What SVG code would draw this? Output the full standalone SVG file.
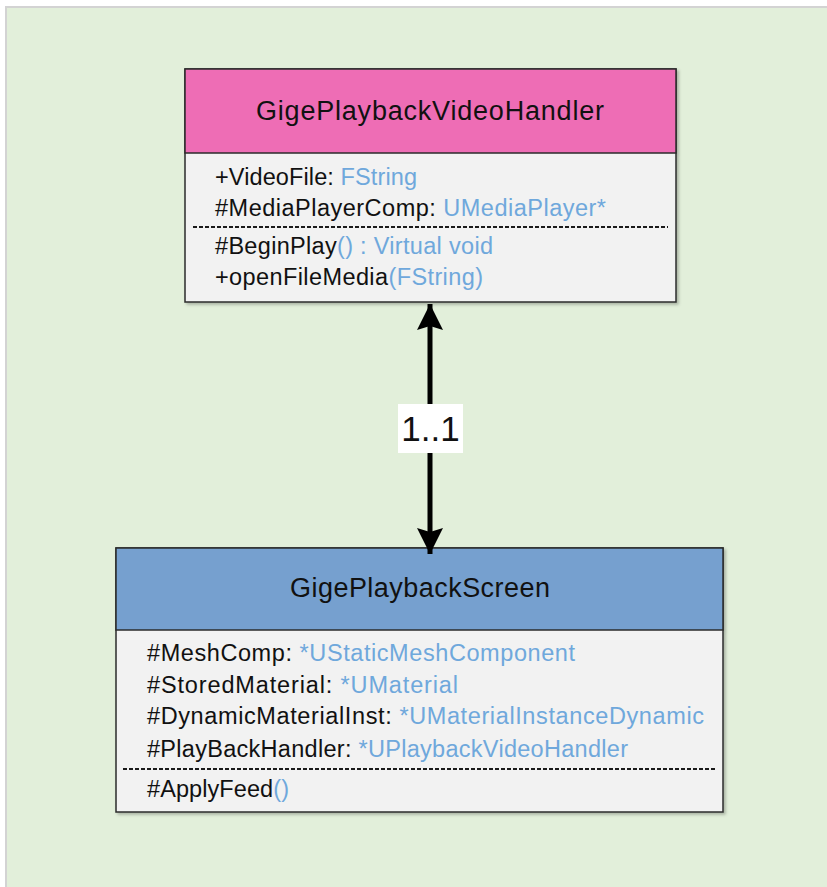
<svg xmlns="http://www.w3.org/2000/svg" width="827" height="887" viewBox="0 0 827 887">
  <defs>
    <style>
      .frame { fill: #E2EFDA; stroke: #D3D3D3; stroke-width: 2; }
      .hdr { stroke: #2B2B2B; stroke-width: 1.5; }
      .body { fill: #F2F2F2; stroke: #2B2B2B; stroke-width: 1.5; }
      .sep { stroke: #1A1A1A; stroke-width: 2; stroke-dasharray: 4 2; }
      .title { font-family: "Liberation Sans", Arial, sans-serif; font-size: 27px; fill: #111; text-anchor: middle; }
      .mem { font-family: "Liberation Sans", Arial, sans-serif; font-size: 23.5px; fill: #111; }
      .ty { fill: #6FA8DC; }
      .mult { font-family: "Liberation Sans", Arial, sans-serif; font-size: 35px; fill: #111; text-anchor: middle; }
      .link { stroke: #000; stroke-width: 5; fill: none; }
    </style>
    <marker id="head" markerUnits="userSpaceOnUse" markerWidth="30" markerHeight="30" viewBox="-27 -15 30 30" refX="0" refY="0" orient="auto-start-reverse">
      <path d="M0,0 L-26,-13 L-22,0 L-26,13 Z" fill="#000"/>
    </marker>
    <filter id="shadow" x="-5%" y="-5%" width="110%" height="110%">
      <feDropShadow dx="2" dy="2" stdDeviation="1.5" flood-color="#000" flood-opacity="0.25"/>
    </filter>
  </defs>

  <!-- canvas -->
  <rect x="0" y="0" width="827" height="887" fill="#FFFFFF"/>
  <rect class="frame" x="6" y="7" width="830" height="890"/>

  <!-- class: GigePlaybackVideoHandler -->
  <g id="GigePlaybackVideoHandler">
    <g filter="url(#shadow)">
      <rect class="body" x="185" y="69" width="491" height="233"/>
      <rect class="hdr" x="185" y="69" width="491" height="84" fill="#EE6DB5"/>
    </g>
    <text class="title" x="430" y="120" textLength="348">GigePlaybackVideoHandler</text>
    <text class="mem" x="215" y="185" textLength="202">+VideoFile: <tspan class="ty">FString</tspan></text>
    <text class="mem" x="215" y="216" textLength="391">#MediaPlayerComp: <tspan class="ty">UMediaPlayer*</tspan></text>
    <line class="sep" x1="193" y1="227" x2="668" y2="227"/>
    <text class="mem" x="215" y="254" textLength="278">#BeginPlay<tspan class="ty">() : Virtual void</tspan></text>
    <text class="mem" x="215" y="285" textLength="268">+openFileMedia<tspan class="ty">(FString)</tspan></text>
  </g>

  <!-- class: GigePlaybackScreen -->
  <g id="GigePlaybackScreen">
    <g filter="url(#shadow)">
      <rect class="body" x="116" y="548" width="607" height="264"/>
      <rect class="hdr" x="116" y="548" width="607" height="82" fill="#76A0CF"/>
    </g>
    <text class="title" x="420" y="597" textLength="260">GigePlaybackScreen</text>
    <text class="mem" x="147" y="661" textLength="428">#MeshComp: <tspan class="ty">*UStaticMeshComponent</tspan></text>
    <text class="mem" x="147" y="693" textLength="311">#StoredMaterial: <tspan class="ty">*UMaterial</tspan></text>
    <text class="mem" x="147" y="724" textLength="557">#DynamicMaterialInst: <tspan class="ty">*UMaterialInstanceDynamic</tspan></text>
    <text class="mem" x="147" y="757" textLength="481">#PlayBackHandler: <tspan class="ty">*UPlaybackVideoHandler</tspan></text>
    <line class="sep" x1="123" y1="769" x2="717" y2="769"/>
    <text class="mem" x="147" y="797" textLength="142">#ApplyFeed<tspan class="ty">()</tspan></text>
  </g>

  <!-- association -->
  <g id="connectors">
    <path class="link" d="M430,304 L430,554" marker-start="url(#head)" marker-end="url(#head)"/>
    <rect x="398" y="404" width="65" height="49" fill="#FFFFFF"/>
    <text class="mult" x="430.5" y="441">1..1</text>
  </g>
</svg>
